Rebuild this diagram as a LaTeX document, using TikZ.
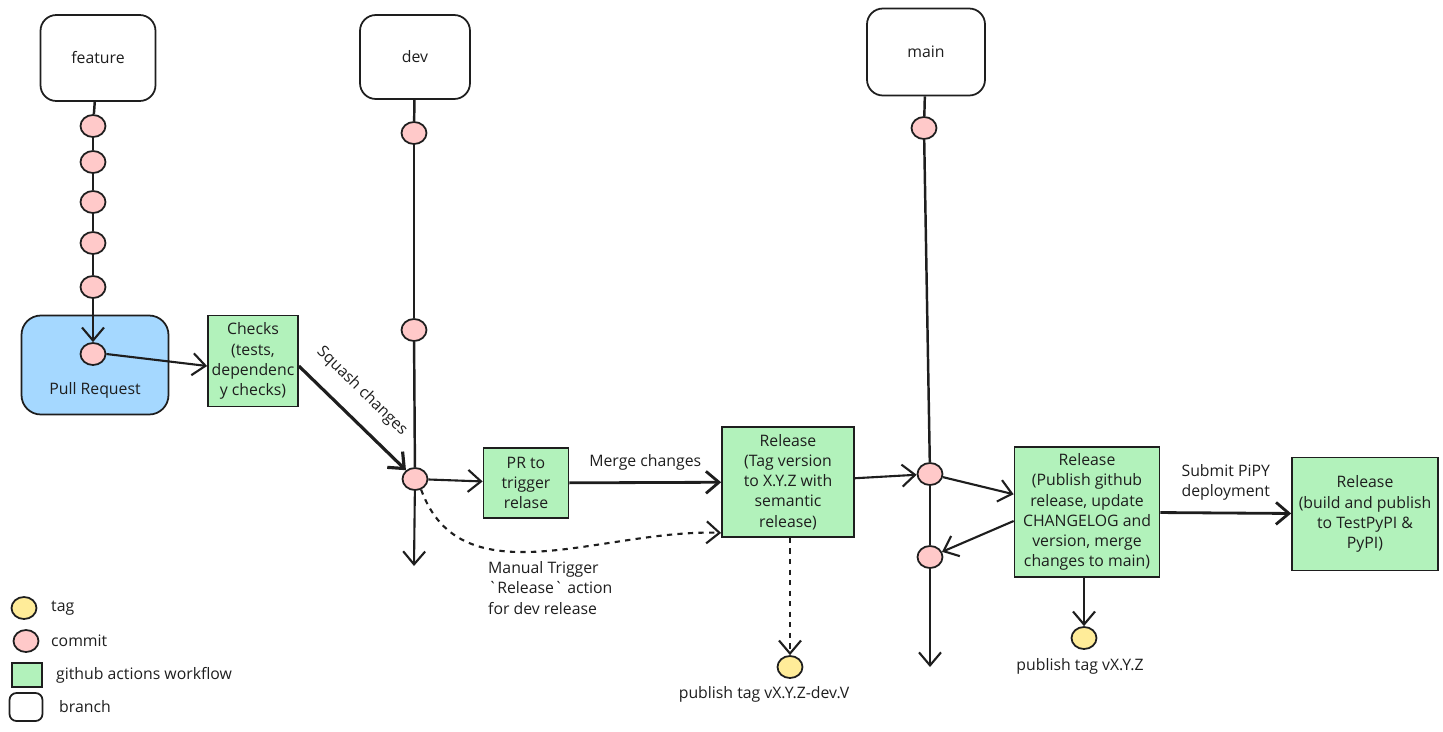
\documentclass[tikz,border=0pt]{standalone}
\usepackage{fontspec}
\setmainfont{Open Sans}
\usetikzlibrary{positioning, shapes.geometric, arrows.meta, calc}
\definecolor{ink}{HTML}{1E1E1E}
\definecolor{commitpink}{HTML}{FFC9C9}
\definecolor{tagyellow}{HTML}{FFEC99}
\definecolor{wfgreen}{HTML}{B2F2BB}
\definecolor{prblue}{HTML}{A5D8FF}
\begin{document}
\begin{tikzpicture}[x=0.02cm, y=-0.02cm,
    every node/.style={font=\fontsize{9}{11.5}\selectfont, text=ink},
    branch/.style={draw=ink, line width=1pt, rounded corners=9pt, fill=white,
                   minimum width=2.3cm, minimum height=1.72cm},
    wf/.style={draw=ink, line width=1pt, fill=wfgreen, align=center, inner sep=2pt},
    commit/.style={ellipse, draw=ink, line width=1pt, fill=commitpink,
                   minimum width=0.5cm, minimum height=0.44cm, inner sep=0pt},
    tagdot/.style={commit, fill=tagyellow},
    arw/.style={-{Straight Barb[length=2.6mm, width=4.4mm]}, line width=1.2pt, draw=ink},
    lin/.style={line width=1.4pt, draw=ink},
    lbl/.style={align=center},
]
\useasboundingbox (0,0) rectangle (1443,731);

% branches
\node[branch] (feat) at (98,58) {feature};
\node[branch, minimum width=2.2cm, minimum height=1.68cm] (dev) at (415,57) {dev};
\node[branch, minimum width=2.36cm, minimum height=1.74cm] (main) at (926,52) {main};

% feature branch
\node[draw=ink, line width=1pt, fill=prblue, rounded corners=11pt,
      minimum width=2.94cm, minimum height=1.98cm] (pr) at (95,365) {};
\node (prtxt) at (95,390) {Pull Request};
\foreach \n/\y in {f1/126, f2/162, f3/202, f4/243, f5/287}
    \node[commit] (\n) at (93,\y) {};
\node[commit] (prc) at (93,354) {};
\foreach \a/\b in {feat/f1, f1/f2, f2/f3, f3/f4, f4/f5}
    \draw[lin] (\a) -- (\b);
\draw[arw] (f5) -- (prc);

\node[wf, minimum width=1.8cm, minimum height=1.82cm] (checks) at (253,361)
    {Checks\\(tests,\\dependenc\\y checks)};
\draw[arw] (prc.east) -- ($(checks.west)+(0,5)$);

% dev branch
\node[commit] (d1) at (414,133) {};
\node[commit] (d2) at (414,330) {};
\node[commit] (d3) at (415,479) {};
\coordinate (devend) at (414,566);
\foreach \a/\b in {dev/d1, d1/d2, d2/d3}
    \draw[lin] (\a) -- (\b);
\draw[arw] (d3) -- (devend);
\draw[arw, line width=1.8pt] ($(checks.east)+(0,5)$) -- (d3)
    node[pos=0.42, sloped, above=6pt] {Squash changes};

\node[wf, minimum width=1.7cm, minimum height=1.4cm] (prt) at (526,483)
    {PR to\\trigger\\relase};
\node[wf, minimum width=2.64cm, minimum height=2.2cm] (rel1) at (788,482)
    {Release\\(Tag version\\to X.Y.Z with\\semantic\\release)};
\draw[arw] (d3) -- (prt);
\draw[arw, line width=1.6pt] (prt) -- (rel1) node[midway, above=3pt] {Merge changes};
\draw[arw, dashed] (d3.-60) to[out=-70, in=178] ($(rel1.south west)+(0,-5)$);
\node[align=left, anchor=west] (manual) at (482,588)
    {Manual Trigger\\\textasciigrave Release\textasciigrave{} action\\for dev release};

\node[tagdot] (tag1) at (790,667) {};
\node (tag1txt) at (764,694) {publish tag vX.Y.Z-dev.V};
\draw[arw, dashed] (tag1 |- rel1.south) -- (tag1);

% main branch
\node[commit] (m1) at (924,128) {};
\node[commit] (m2) at (930,474) {};
\node[commit] (m3) at (930,557) {};
\coordinate (mainend) at (930,667);
\foreach \a/\b in {main/m1, m1/m2, m2/m3}
    \draw[lin] (\a) -- (\b);
\draw[arw] (m3) -- (mainend);
\draw[arw] (rel1) -- (m2);

\node[wf, minimum width=2.9cm, minimum height=2.6cm] (rel2) at (1087,512)
    {Release\\(Publish github\\release, update\\CHANGELOG and\\version, merge\\changes to main)};
\draw[arw] (m2) -- (rel2);
\draw[arw] ($(rel2.west)+(0,9)$) -- (m3);

\node[tagdot] (tag2) at (1084,638) {};
\node (tag2txt) at (1080,666) {publish tag vX.Y.Z};
\draw[arw] (tag2 |- rel2.south) -- (tag2);

\node[wf, minimum width=2.92cm, minimum height=2.26cm] (rel3) at (1365,514)
    {Release\\(build and publish\\to TestPyPI \&\\PyPI)};
\draw[arw, line width=1.6pt] (rel2) -- (rel3)
    node[midway, above=3pt, lbl] {Submit PiPY\\deployment};

% legend
\node[tagdot] (lgtag) at (24,608) {};
\node[anchor=west] (lgtagtxt) at (45,608) {tag};
\node[commit] (lgcommit) at (26,641) {};
\node[anchor=west] (lgcommittxt) at (45,641) {commit};
\node[draw=ink, line width=1pt, fill=wfgreen, minimum width=0.6cm,
      minimum height=0.48cm] (lgwf) at (27,675) {};
\node[anchor=west] (lgwftxt) at (50,675) {github actions workflow};
\node[draw=ink, line width=1pt, fill=white, rounded corners=4pt,
      minimum width=0.66cm, minimum height=0.56cm] (lgbr) at (26,707) {};
\node[anchor=west] (lgbrtxt) at (53,707) {branch};
\end{tikzpicture}
\end{document}
